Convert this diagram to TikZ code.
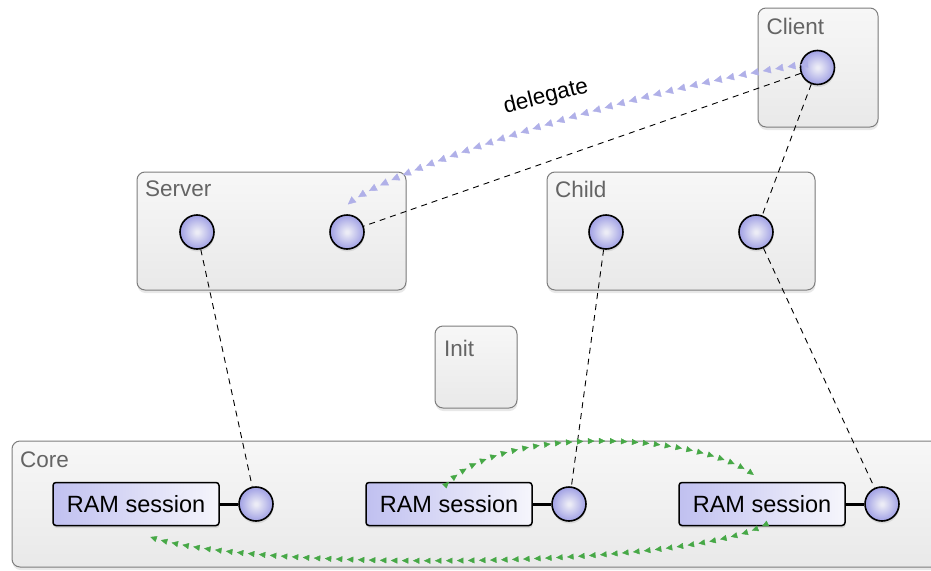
\documentclass[tikz,border=0pt]{standalone}
\usepackage{fontspec}
\setmainfont{Liberation Sans}
\usetikzlibrary{shadows,decorations.markings,arrows.meta}
\definecolor{lav}{RGB}{176,176,232}
\definecolor{ballout}{RGB}{160,160,228}
\definecolor{ballin}{RGB}{236,236,246}
\definecolor{boxtop}{RGB}{247,247,247}
\definecolor{boxbot}{RGB}{233,233,233}
\definecolor{boxline}{RGB}{125,125,125}
\definecolor{labgray}{RGB}{100,100,100}
\definecolor{ramleft}{RGB}{192,192,240}
\definecolor{ramright}{RGB}{246,246,252}
\definecolor{grn}{RGB}{70,168,70}
\pgfdeclareradialshading{ballshade}{\pgfpoint{0bp}{0bp}}{color(0bp)=(ballin); color(2bp)=(ballin); color(25bp)=(ballout); color(50bp)=(ballout)}
\begin{document}
\begin{tikzpicture}[x=1pt,y=-1pt,
  container/.style={draw=boxline, line width=1pt, rounded corners=8pt,
    top color=boxtop, bottom color=boxbot, inner sep=0pt,
    drop shadow={opacity=0.18, shadow xshift=0.5pt, shadow yshift=-3pt}},
  lbl/.style={text=labgray, font=\fontsize{22.5}{25}\selectfont, inner sep=0pt, anchor=north west},
  ball/.style={circle, draw=black, line width=1.6pt, minimum size=34pt, inner sep=0pt,
    shading=ballshade,
    drop shadow={opacity=0.2, shadow xshift=0.5pt, shadow yshift=-2.5pt}},
  ram/.style={draw=black, line width=1.5pt, rounded corners=3pt, minimum width=166pt,
    minimum height=43pt, inner sep=0pt, left color=ramleft, right color=ramright,
    font=\fontsize{23.5}{26}\selectfont,
    drop shadow={opacity=0.2, shadow xshift=0.5pt, shadow yshift=-2.5pt}},
  stem/.style={draw=black, line width=3pt},
  conn/.style={draw=black, line width=0.9pt, dash pattern=on 6pt off 5pt},
  deleg/.style={color=lav, postaction={decorate}, decoration={markings,
    mark=between positions 0 and 1 step 12.5pt with {\arrow{Triangle[length=8pt,width=7.5pt]}}}},
  garc/.style={color=grn, postaction={decorate}, decoration={markings,
    mark=between positions 0 and 1 step 11pt with {\arrow{Triangle[length=6.5pt,width=6pt]}}}}
]
\useasboundingbox (0,0) rectangle (931,570);

% containers
\node[container, minimum width=120pt, minimum height=119pt] (client) at (818,67.5) {};
\node[container, minimum width=269pt, minimum height=118pt] (server) at (271.5,231) {};
\node[container, minimum width=268pt, minimum height=118pt] (child) at (681,231) {};
\node[container, minimum width=82pt, minimum height=82pt] (init) at (476,367) {};
\node[container, minimum width=940pt, minimum height=126pt] (core) at (482,504) {};

\node[lbl] (clientlbl) at ([xshift=9pt,yshift=-10pt]client.north west) {Client};
\node[lbl] (serverlbl) at ([xshift=8.5pt,yshift=-9.5pt]server.north west) {Server};
\node[lbl] (childlbl) at ([xshift=8.5pt,yshift=-9.5pt]child.north west) {Child};
\node[lbl] (initlbl) at ([xshift=9.5pt,yshift=-14pt]init.north west) {Init};
\node[lbl] (corelbl) at ([xshift=8.5pt,yshift=-11pt]core.north west) {Core};

% RAM sessions
\node[ram] (r1) at (136,504) {RAM session};
\node[ram] (r2) at (449,504) {RAM session};
\node[ram] (r3) at (762,504) {RAM session};

% balls
\node[ball] (cl) at (817.5,67.5) {};
\node[ball] (s1) at (197,232) {};
\node[ball] (s2) at (347,232) {};
\node[ball] (ch1) at (606,232) {};
\node[ball] (ch2) at (756,232) {};
\node[ball] (rc1) at (256,504) {};
\node[ball] (rc2) at (569,504) {};
\node[ball] (rc3) at (882,504) {};

\draw[stem] (r1.east) -- (rc1.west);
\draw[stem] (r2.east) -- (rc2.west);
\draw[stem] (r3.east) -- (rc3.west);

% dashed links
\draw[conn] (cl) -- (s2);
\draw[conn] (cl) -- (ch2);
\draw[conn] (s1) -- (rc1);
\draw[conn] (ch1) -- (rc2);
\draw[conn] (ch2) -- (rc3);

% delegate
\coordinate (dend) at ([yshift=9pt]s2.north);
\path[deleg] (cl.172) .. controls (650,86) and (390,167) .. (dend);
\node[rotate=14, font=\fontsize{22.5}{25}\selectfont, inner sep=0pt] (delegatelbl) at (546,97) {delegate};

% green arcs
\path[garc] (r2.north) .. controls (509,423) and (712,432) .. (r3.north);
\path[garc] (r3.south) .. controls (670,571) and (220,571) .. ([xshift=5pt,yshift=-7pt]r1.south);
\end{tikzpicture}
\end{document}
